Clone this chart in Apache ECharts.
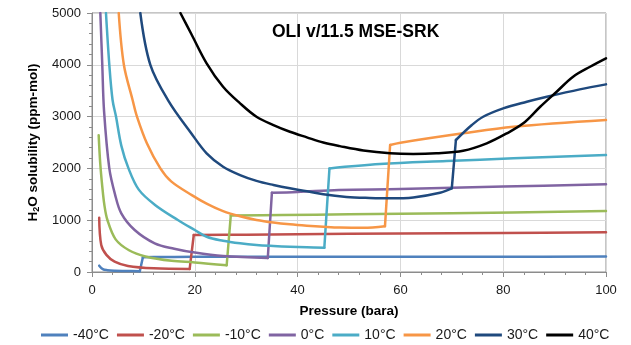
<!DOCTYPE html>
<html>
<head>
<meta charset="utf-8">
<script src="https://cdn.jsdelivr.net/npm/echarts@6/dist/echarts.min.js"></script>
<style>
  html, body { margin: 0; padding: 0; background: #ffffff; }
  #chart { width: 631px; height: 345px; }
</style>
</head>
<body>
<div id="chart"></div>
<script>
// Water solubility in CO2-rich phase vs pressure, one isotherm per temperature.
// Each entry: [pressure (bara), H2O solubility (ppm-mol)]
const seriesNames = ['-40°C', '-20°C', '-10°C', '0°C', '10°C', '20°C', '30°C', '40°C'];
const seriesColors = ['#4F81BD', '#C0504D', '#9BBB59', '#8064A2', '#4BACC6', '#F79646', '#1F497D', '#000000'];

const tMinus40 = [[1.4,122],[2.1,55],[3,35],[4.4,25],[6.5,20],[9.3,15],[9.9,283],[12,290],[20,292],[40,294],[60,295],[80,296],[100,297]];
const tMinus20 = [[1.4,1048],[1.8,521],[2.8,330],[4.4,200],[7,116],[12,71],[19,60],[19.8,714],[30,720],[40,730],[60,745],[80,755],[100,766]];
const tMinus10 = [[1.3,2640],[1.6,2100],[2.0,1650],[2.4,1300],[3.0,1004],[4.6,630],[7.2,420],[10.4,300],[15.5,215],[20,185],[26.2,130],[27,1090],[37,1100],[50,1115],[70,1135],[100,1177]];
const t0 = [[1.62,5000],[2.0,4000],[2.35,3100],[3.37,2000],[4.5,1490],[5.7,1133],[8.3,811],[12.2,554],[16,450],[20,375],[25.5,309],[34.2,270],[35,1530],[40,1545],[48,1583],[60,1600],[80,1650],[100,1692]];
const t10 = [[2.72,5000],[3.37,4000],[4.0,3320],[4.67,3000],[5.7,2440],[7.1,2000],[9.1,1590],[12.2,1300],[16.7,1004],[20,811],[22.3,681],[25.5,604],[28.8,554],[32,521],[35.3,502],[38.5,488],[41.8,477],[45.2,470],[46.2,2000],[56,2084],[69,2142],[82,2194],[100,2258]];
const t20 = [[5.2,5000],[6.2,4000],[7.9,3320],[8.75,3000],[10.7,2480],[13.3,2000],[15.4,1750],[19.5,1480],[22.3,1320],[25.5,1175],[28.8,1075],[32,1005],[35.3,955],[38.5,920],[41.8,893],[45,872],[48.2,857],[52.8,855],[57,885],[58,2451],[60,2496],[72.2,2677],[82,2804],[100,2934]];
const t30 = [[9.4,5000],[11.35,4000],[14.9,3300],[19.3,2680],[22.3,2291],[25.5,2033],[28.8,1872],[32,1760],[35.3,1680],[38.5,1615],[41.8,1560],[45,1500],[49.5,1450],[54,1430],[58,1422],[62.5,1440],[67.7,1530],[70,1615],[70.8,2548],[73.9,2837],[76.1,2997],[80,3159],[84.6,3287],[88.5,3383],[94.9,3526],[100,3622]];
const t40 = [[17.2,5000],[19.3,4600],[22.3,4028],[25.5,3576],[28.8,3256],[32,2997],[35.3,2837],[38.5,2708],[41.8,2600],[45,2500],[48.2,2430],[52.8,2345],[58,2291],[62.5,2277],[67,2291],[72.2,2341],[76.8,2484],[80.7,2677],[83.9,2870],[87.2,3190],[90.4,3480],[93.6,3769],[96.9,3962],[100,4124]];

const seriesData = [tMinus40, tMinus20, tMinus10, t0, t10, t20, t30, t40];
// index of the first point after the phase-change step in each isotherm (-1 = none)
const stepIndex = [6, 7, 11, 12, 18, 19, 18, -1];

const FONT = 'Liberation Sans, Arial, sans-serif';

// Each isotherm is drawn as smooth branches joined by a straight step, so the
// smoothing never rounds the sharp corners of the step.
function buildSeries() {
  const out = [];
  seriesNames.forEach((name, i) => {
    const data = seriesData[i];
    const j = stepIndex[i];
    const pieces = j < 0 ? [data] : [data.slice(0, j), data.slice(j - 1, j + 1), data.slice(j)];
    pieces.forEach((piece) => {
      out.push({
        name: name,
        type: 'line',
        data: piece,
        showSymbol: false,
        symbol: 'none',
        smooth: 0.35,
        clip: true,
        color: seriesColors[i],
        lineStyle: { color: seriesColors[i], width: 2.5, cap: 'round', join: 'round' },
        z: 2 + i
      });
    });
  });
  return out;
}

const chart = echarts.init(document.getElementById('chart'), null, { renderer: 'canvas' });

chart.setOption({
  animation: false,
  backgroundColor: '#ffffff',
  title: {
    text: 'OLI v/11.5 MSE-SRK',
    left: 272,
    top: 23,
    padding: 0,
    textStyle: { fontFamily: FONT, fontSize: 17.5, fontWeight: 'bold', color: '#000000' }
  },
  legend: {
    data: seriesNames,
    left: 41,
    top: 328,
    padding: 0,
    icon: 'rect',
    itemWidth: 27,
    itemHeight: 3,
    itemGap: 8,
    textStyle: { fontFamily: FONT, fontSize: 14, color: '#1a1a1a' }
  },
  grid: {
    left: 92,
    right: 25,
    top: 13,
    bottom: 73,
    show: true,
    borderColor: '#8c8c8c',
    borderWidth: 1
  },
  xAxis: {
    type: 'value',
    min: 0,
    max: 100,
    interval: 20,
    name: 'Pressure (bara)',
    nameLocation: 'middle',
    nameGap: 32,
    nameTextStyle: { fontFamily: FONT, fontSize: 13.5, fontWeight: 'bold', color: '#000000' },
    axisLine: { show: true, lineStyle: { color: '#8c8c8c', width: 1 } },
    axisTick: { show: true, length: 5, lineStyle: { color: '#8c8c8c' } },
    minorTick: { show: true, splitNumber: 5, length: 3, lineStyle: { color: '#8c8c8c' } },
    axisLabel: { fontFamily: FONT, fontSize: 13, color: '#1a1a1a', margin: 12 },
    splitLine: { show: true, lineStyle: { color: '#d9d9d9', width: 1 } }
  },
  yAxis: {
    type: 'value',
    min: 0,
    max: 5000,
    interval: 1000,
    name: '{b|H}{s|2}{b|O solubility (ppm-mol)}',
    nameLocation: 'middle',
    nameRotate: 90,
    nameGap: 50,
    nameTextStyle: {
      fontFamily: FONT, fontSize: 13.5, fontWeight: 'bold', color: '#000000',
      rich: {
        b: { fontFamily: FONT, fontSize: 13.5, fontWeight: 'bold', color: '#000000' },
        s: { fontFamily: FONT, fontSize: 9, fontWeight: 'bold', color: '#000000', verticalAlign: 'bottom', padding: [6, 0, 0, 0] }
      }
    },
    axisLine: { show: true, lineStyle: { color: '#8c8c8c', width: 1 } },
    axisTick: { show: true, length: 5, lineStyle: { color: '#8c8c8c' } },
    minorTick: { show: true, splitNumber: 5, length: 3, lineStyle: { color: '#8c8c8c' } },
    axisLabel: { fontFamily: FONT, fontSize: 13, color: '#1a1a1a', margin: 11, formatter: (v) => String(v) },
    splitLine: { show: true, lineStyle: { color: '#d9d9d9', width: 1 } }
  },
  series: buildSeries()
});
</script>
</body>
</html>
